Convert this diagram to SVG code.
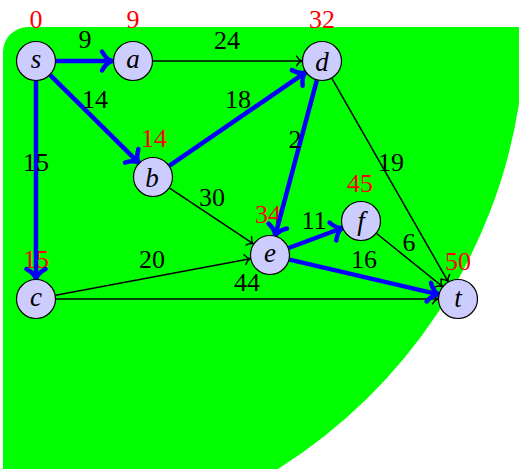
<svg xmlns="http://www.w3.org/2000/svg" width="519" height="469" viewBox="0 0 519 469">
<style>
.node circle{fill:#ccccff;stroke:#000;stroke-width:1.2}
.node text.n{font-family:"Liberation Serif","DejaVu Serif",serif;font-style:italic;font-size:27px;text-anchor:middle;fill:#000}
.dist{font-family:"Liberation Serif","DejaVu Serif",serif;font-size:26px;text-anchor:middle;fill:#ff0000}
.lbl{font-family:"Liberation Serif","DejaVu Serif",serif;font-size:26px;text-anchor:middle;fill:#000}
.thin{stroke:#000;stroke-width:1.5;fill:none;marker-end:url(#ah)}
.thick{stroke:#0000ff;stroke-width:4.5;fill:none;marker-end:url(#ahb)}
</style>
<defs>
<marker id="ah" markerUnits="userSpaceOnUse" refX="0" refY="0" orient="auto" overflow="visible" markerWidth="10" markerHeight="10">
<path d="M -5.5,-5 C -3.8,-2 -1.5,-0.4 0,0 C -1.5,0.4 -3.8,2 -5.5,5" fill="none" stroke="#000" stroke-width="1.4" stroke-linecap="round"/>
</marker>
<marker id="ahb" markerUnits="userSpaceOnUse" refX="0" refY="0" orient="auto" overflow="visible" markerWidth="20" markerHeight="20">
<path d="M -10,-9.5 C -7,-4 -3,-0.8 0,0 C -3,0.8 -7,4 -10,9.5" fill="none" stroke="#0000ff" stroke-width="4.5" stroke-linecap="round"/>
</marker>
</defs>
<path id="region" d="M 3,469 L 3,52 A 25 25 0 0 1 28,27 L 519,27 L 519,104 A 529 529 0 0 1 278,469 Z" fill="#00ff00"/>
<g id="dists">
<text class="dist" x="36" y="28">0</text>
<text class="dist" x="133" y="28">9</text>
<text class="dist" x="322" y="28">32</text>
<text class="dist" x="154" y="147">14</text>
<text class="dist" x="268" y="223">34</text>
<text class="dist" x="360" y="192">45</text>
<text class="dist" x="458" y="270">50</text>
<text class="dist" x="36" y="268">15</text>
</g>
<g id="connectors">
<line class="thin" x1="153" y1="61" x2="302" y2="61"/>
<line class="thin" x1="331.9" y1="78.4" x2="448.1" y2="281.6"/>
<line class="thin" x1="169.6" y1="188.1" x2="253.4" y2="243.9"/>
<line class="thin" x1="376.6" y1="233.5" x2="442.4" y2="286.5"/>
<line class="thin" x1="55.7" y1="295.3" x2="250.3" y2="258.7"/>
<line class="thin" x1="56" y1="299" x2="438" y2="299"/>
<line class="thick" x1="56" y1="61" x2="112" y2="61"/>
<line class="thick" x1="50.2" y1="75.1" x2="138.8" y2="162.9"/>
<line class="thick" x1="169.5" y1="165.7" x2="305.5" y2="72.3"/>
<line class="thick" x1="36" y1="81" x2="36" y2="279"/>
<line class="thick" x1="316.8" y1="80.3" x2="275.2" y2="235.7"/>
<line class="thick" x1="288.7" y1="248" x2="342.3" y2="228"/>
<line class="thick" x1="289.5" y1="259.6" x2="438.5" y2="294.4"/>
<text class="lbl" x="85" y="48">9</text>
<text class="lbl" x="227" y="49">24</text>
<text class="lbl" x="95" y="108">14</text>
<text class="lbl" x="238" y="108">18</text>
<text class="lbl" x="36" y="171">15</text>
<text class="lbl" x="295" y="148">2</text>
<text class="lbl" x="391" y="171">19</text>
<text class="lbl" x="212" y="206">30</text>
<text class="lbl" x="314" y="229">11</text>
<text class="lbl" x="409" y="251">6</text>
<text class="lbl" x="364" y="268">16</text>
<text class="lbl" x="152" y="268">20</text>
<text class="lbl" x="247" y="291">44</text>
</g>
<g id="s" class="node"><circle cx="36" cy="61" r="19.5"/><text class="n" x="36" y="68">s</text></g>
<g id="a" class="node"><circle cx="133" cy="61" r="19.5"/><text class="n" x="133" y="68">a</text></g>
<g id="d" class="node"><circle cx="322" cy="61" r="19.5"/><text class="n" x="322" y="71">d</text></g>
<g id="b" class="node"><circle cx="153" cy="177" r="19.5"/><text class="n" x="152" y="187">b</text></g>
<g id="c" class="node"><circle cx="36" cy="299" r="19.5"/><text class="n" x="36" y="306">c</text></g>
<g id="e" class="node"><circle cx="270" cy="255" r="19.5"/><text class="n" x="270" y="262">e</text></g>
<g id="f" class="node"><circle cx="361" cy="221" r="19.5"/><text class="n" x="361" y="230">f</text></g>
<g id="t" class="node"><circle cx="458" cy="299" r="19.5"/><text class="n" x="458" y="307">t</text></g>
</svg>
